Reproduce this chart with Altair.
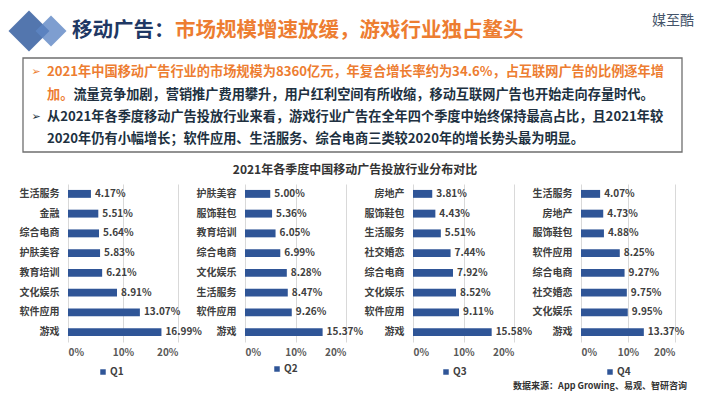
import altair as alt
import pandas as pd

FONT = "Noto Sans CJK SC"
BAR = "#2F5597"
ORANGE = "#ED7D31"
DARK = "#203040"
LBL = "#404040"

# ---- data ----
q1_cats = ["生活服务", "金融", "综合电商", "护肤美容", "教育培训", "文化娱乐", "软件应用", "游戏"]
q1_vals = [4.17, 5.51, 5.64, 5.83, 6.21, 8.91, 13.07, 16.99]
q2_cats = ["护肤美容", "服饰鞋包", "教育培训", "综合电商", "文化娱乐", "生活服务", "软件应用", "游戏"]
q2_vals = [5.00, 5.36, 6.05, 6.99, 8.28, 8.47, 9.26, 15.37]
q3_cats = ["房地产", "服饰鞋包", "生活服务", "社交婚恋", "综合电商", "文化娱乐", "软件应用", "游戏"]
q3_vals = [3.81, 4.43, 5.51, 7.44, 7.92, 8.52, 9.11, 15.58]
q4_cats = ["生活服务", "房地产", "服饰鞋包", "软件应用", "综合电商", "社交婚恋", "文化娱乐", "游戏"]
q4_vals = [4.07, 4.73, 4.88, 8.25, 9.27, 9.75, 9.95, 13.37]
quarters = ["Q1", "Q2", "Q3", "Q4"]
x_ticks = [0, 10, 20]

title_dark = "移动广告："
title_orange = "市场规模增速放缓，游戏行业独占鳌头"
brand = "媒至酷"
line1 = "2021年中国移动广告行业的市场规模为8360亿元，年复合增长率约为34.6%，占互联网广告的比例逐年增"
line2a = "加。"
line2b = "流量竞争加剧，营销推广费用攀升，用户红利空间有所收缩，移动互联网广告也开始走向存量时代。"
line3 = "从2021年各季度移动广告投放行业来看，游戏行业广告在全年四个季度中始终保持最高占比，且2021年较"
line4 = "2020年仍有小幅增长；软件应用、生活服务、综合电商三类较2020年的增长势头最为明显。"
chart_title = "2021年各季度中国移动广告投放行业分布对比"
source = "数据来源：App Growing、易观、智研咨询"

# panel-1 plot origin on the page (used to place decorations)
OX, OY = 68, 184
one = pd.DataFrame({"k": [0]})


def txt(s, x, y, size, color, weight="bold", align="left", font=FONT):
    return alt.Chart(one).mark_text(
        text=s, align=align, baseline="middle", fontSize=size, font=font,
        fontWeight=weight, color=color
    ).encode(x=alt.value(x - OX), y=alt.value(y - OY))


def panel(cats, vals, q, lx, ly):
    df = pd.DataFrame({"cat": cats, "v": vals, "q": q})
    base = alt.Chart(df).encode(
        y=alt.Y("cat:N", sort=cats, title=None,
                scale=alt.Scale(paddingInner=0.6, paddingOuter=0.3),
                axis=alt.Axis(domain=False, ticks=False, grid=False,
                              labelFont=FONT, labelFontWeight="bold",
                              labelFontSize=10, labelColor=LBL, labelPadding=9))
    )
    bars = base.mark_bar().encode(
        x=alt.X("v:Q", title=None, scale=alt.Scale(domain=[0, 20], nice=False),
                axis=alt.Axis(values=x_ticks, labelExpr="datum.value + '%'",
                              domain=False, ticks=False, grid=True,
                              gridColor="#D9D9D9", gridWidth=1,
                              labelFont=FONT, labelFontWeight="bold",
                              labelFontSize=10, labelColor="#595959",
                              labelPadding=5)),
        color=alt.Color("q:N", scale=alt.Scale(domain=[q], range=[BAR]),
                        legend=alt.Legend(orient="none", legendX=lx, legendY=ly,
                                          title=None, symbolType="square",
                                          symbolSize=30, symbolStrokeWidth=0,
                                          labelFont=FONT, labelFontSize=10,
                                          labelFontWeight="bold", labelColor=LBL,
                                          labelOffset=2, padding=0))
    )
    labels = base.mark_text(
        align="left", baseline="middle", dx=4, font=FONT, fontWeight="bold",
        fontSize=10, color=LBL
    ).encode(x="v:Q", text="lbl:N").transform_calculate(
        lbl="format(datum.v, '.2f') + '%'"
    )
    return bars, labels


FS = 13.2
b1, l1 = panel(q1_cats, q1_vals, quarters[0], 30, 183)
deco = [
    alt.Chart(one).mark_rect(opacity=0).encode(
        x=alt.value(8 - OX), x2=alt.value(702 - OX),
        y=alt.value(8 - OY), y2=alt.value(391 - OY)),
    alt.Chart(one).mark_point(shape="diamond", filled=True, size=1681,
                              color="#4A6FAA", opacity=0.95).encode(
        x=alt.value(29 - OX), y=alt.value(31 - OY)),
    alt.Chart(one).mark_point(shape="diamond", filled=True, size=961,
                              color="#5E86C4", opacity=0.8).encode(
        x=alt.value(51 - OX), y=alt.value(31 - OY)),
    txt(title_dark, 72, 31, 20.5, "#1F3864"),
    txt(title_orange, 175, 31, 20.5, ORANGE),
    txt(brand, 694, 21, 14, "#44546A", weight="normal", align="right"),
    alt.Chart(one).mark_rect(fillOpacity=0, stroke="#6F6F6F", strokeWidth=1.3).encode(
        x=alt.value(23 - OX), x2=alt.value(682 - OX),
        y=alt.value(58 - OY), y2=alt.value(152 - OY)),
    txt("➢", 36, 72, 11, ORANGE, weight="normal", align="center", font="DejaVu Sans"),
    txt(line1, 47, 72, FS, ORANGE),
    txt(line2a, 47, 95, FS, ORANGE),
    txt(line2b, 47 + 2 * FS, 95, FS, DARK),
    txt("➢", 36, 117, 11, DARK, weight="normal", align="center", font="DejaVu Sans"),
    txt(line3, 47, 117, FS, DARK),
    txt(line4, 47, 139, FS, DARK),
    txt(chart_title, 355, 170, 12, "#333333", align="center"),
    txt(source, 687, 386, 9, "#333333", align="right"),
]
p1 = alt.layer(*deco, b1, l1).properties(width=110, height=158)

b2, l2 = panel(q2_cats, q2_vals, quarters[1], 27, 180)
p2 = alt.layer(b2, l2).properties(width=101, height=158)
b3, l3 = panel(q3_cats, q3_vals, quarters[2], 28, 183)
p3 = alt.layer(b3, l3).properties(width=101, height=158)
b4, l4 = panel(q4_cats, q4_vals, quarters[3], 24, 183)
p4 = alt.layer(b4, l4).properties(width=94, height=158)

chart = alt.hconcat(p1, p2, p3, p4, spacing=67, bounds="flush").resolve_scale(
    color="independent"
).resolve_legend(color="independent").properties(
    padding=0, background="white"
).configure_view(stroke=None)

chart.save("out.html", embed_options={"renderer": "svg", "actions": False})
